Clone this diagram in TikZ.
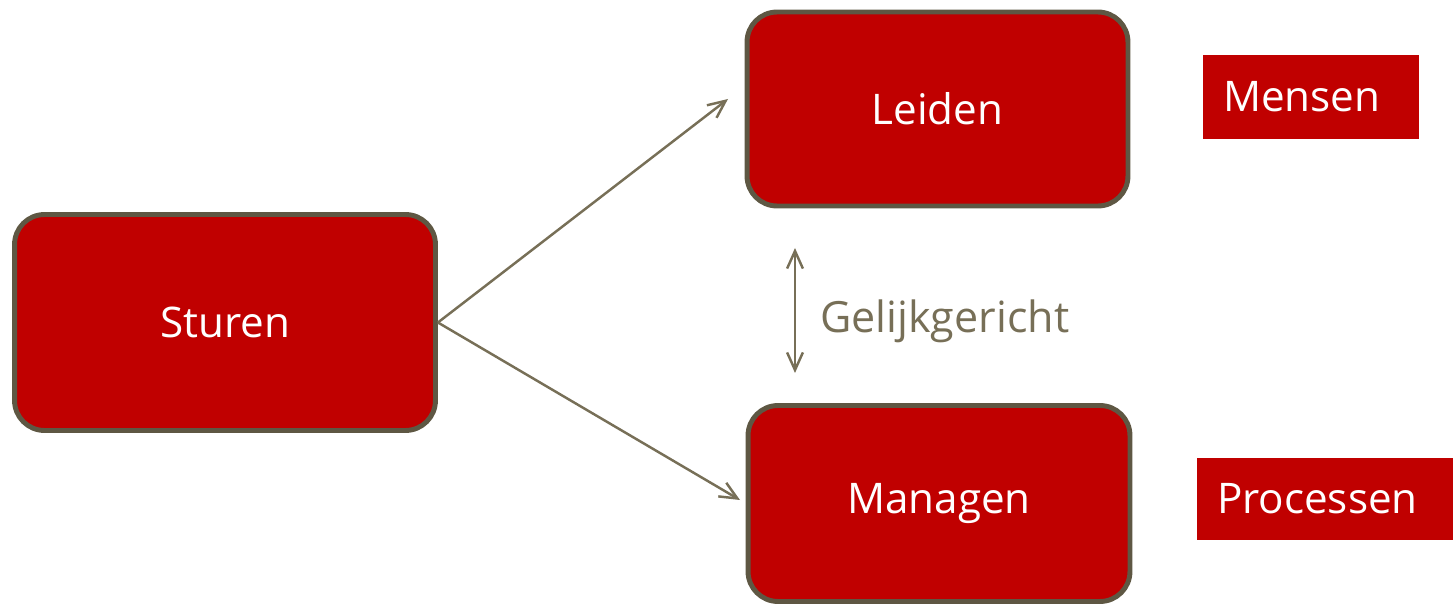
\documentclass[tikz,border=0pt]{standalone}
\usepackage{fontspec}
\setmainfont{Open Sans}
\usetikzlibrary{arrows.meta, positioning}
\definecolor{darkred}{HTML}{C00000}
\definecolor{rim}{HTML}{5E5743}
\definecolor{taupe}{HTML}{776F57}

\begin{document}
\begin{tikzpicture}[x=0.02cm, y=-0.02cm, >={Straight Barb[length=10pt, width=9pt]},
    box/.style={draw=rim, line width=2.8pt, fill=darkred, rounded corners=0.6cm,
        text=white, font=\fontsize{24}{29}\selectfont},
    tag/.style={fill=darkred, text=white, inner xsep=0.4cm, align=left,
        font=\fontsize{24}{29}\selectfont},
    link/.style={taupe, line width=1.4pt}]
        \useasboundingbox (0,0) rectangle (1454,604);
        \node[box, minimum width=8.42cm, minimum height=4.32cm] (sturen) at (225,322.5) {Sturen};
        \node[box, minimum width=7.62cm, minimum height=3.88cm] (leiden) at (937.5,109) {Leiden};
        \node[box, minimum width=7.64cm, minimum height=3.92cm] (managen) at (939,503.5) {Managen};
        \node[tag, text width=3.52cm, minimum height=1.68cm] (mensen) at (1311,97) {Mensen};
        \node[tag, text width=4.32cm, minimum height=1.64cm] (processen) at (1325,499) {Processen};

        \coordinate (toleiden) at (728,99);
        \coordinate (tomanagen) at (740,500);
        \coordinate (top) at (795,248);
        \coordinate (bottom) at (795,373);

        \path[link, ->]
        (sturen.east) edge (toleiden)
        (sturen.east) edge (tomanagen);
        \draw[link, <->] (top) -- (bottom);
        \node[taupe, anchor=west, font=\fontsize{24.5}{29}\selectfont] (gelijk) at (814,321) {Gelijkgericht};
    \end{tikzpicture}
\end{document}
